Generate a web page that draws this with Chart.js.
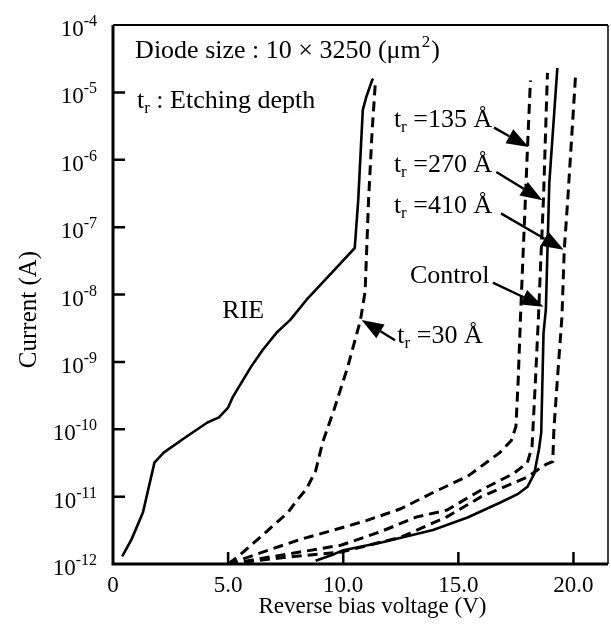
<!DOCTYPE html>
<html>
<head>
<meta charset="utf-8">
<script src="https://cdn.jsdelivr.net/npm/chart.js@4.4.1/dist/chart.umd.min.js"></script>
<style>
body { margin: 0; background: #fff; }
canvas { display: block; }
</style>
</head>
<body>
<canvas id="ivChart" width="611" height="624"></canvas>
<script>
// axis ticks
var xTicks = [0, 5, 10, 15, 20];
var yTickExps = [-12, -11, -10, -9, -8, -7, -6, -5, -4];

// RIE (solid)
var rieV = [0.4, 0.8, 1.3, 1.8, 2.2, 3.2, 4.1, 4.6, 5.0, 5.2, 6.0, 6.5, 7.1, 7.7, 8.4, 9.1, 9.8, 10.5, 10.65, 10.85, 11.0, 11.25, 11.3];
var rieI = [1.3e-12, 2.3e-12, 5.8e-12, 3.2e-11, 4.5e-11, 7.8e-11, 1.26e-10, 1.5e-10, 2.1e-10, 3.0e-10, 8.5e-10, 1.5e-9, 2.7e-9, 4.2e-9, 8.3e-9, 1.5e-8, 2.7e-8, 4.9e-8, 2.5e-7, 5.5e-6, 8.5e-6, 1.5e-5, 1.6e-5];

// t_r = 30 A
var t30V = [5.0, 5.4, 6.0, 6.4, 7.1, 7.6, 8.0, 8.4, 8.8, 9.1, 9.6, 10.2, 10.75, 10.95, 11.1, 11.25, 11.4];
var t30I = [1.0e-12, 1.26e-12, 1.9e-12, 2.5e-12, 4.1e-12, 5.8e-12, 8.9e-12, 1.3e-11, 2.4e-11, 6.3e-11, 1.95e-10, 8.5e-10, 4.2e-9, 1.1e-8, 2.5e-7, 2.5e-6, 1.5e-5];

// t_r = 135 A
var t135V = [5.0, 6.5, 8.1, 9.6, 11.0, 12.5, 13.9, 15.4, 16.8, 17.3, 17.5, 17.6, 17.7, 17.85, 18.0, 18.13];
var t135I = [1.0e-12, 1.5e-12, 2.3e-12, 3.2e-12, 4.4e-12, 6.6e-12, 1.15e-11, 2.0e-11, 4.5e-11, 6.8e-11, 1.1e-10, 5.4e-10, 4.7e-9, 8.1e-8, 1.4e-6, 1.5e-5];

// t_r = 270 A
var t270V = [5.0, 7.0, 9.9, 11.6, 13.2, 14.5, 16.0, 17.4, 18.0, 18.2, 18.35, 18.48, 18.57, 18.7, 18.87];
var t270I = [1.0e-12, 1.3e-12, 1.9e-12, 3.0e-12, 5.0e-12, 6.3e-12, 1.26e-11, 2.2e-11, 3.2e-11, 5.5e-11, 5.4e-10, 4.7e-9, 2.6e-8, 2.8e-7, 1.95e-5];

// t_r = 410 A
var t410V = [5.0, 7.5, 9.9, 12.5, 14.5, 16.0, 17.4, 18.0, 18.45, 18.8, 19.1, 19.15, 19.3, 19.5, 19.6, 19.75, 20.1];
var t410I = [1.0e-12, 1.26e-12, 1.5e-12, 2.5e-12, 5.0e-12, 1.0e-11, 1.6e-11, 1.95e-11, 2.5e-11, 3.0e-11, 3.3e-11, 1.0e-10, 5.4e-10, 4.7e-9, 4.6e-8, 2.5e-7, 2.0e-5];

// Control (solid)
var ctrlV = [8.8, 9.6, 10.0, 11.7, 13.9, 15.4, 16.8, 17.6, 18.0, 18.3, 18.5, 18.6, 18.7, 18.8, 18.95, 19.3];
var ctrlI = [1.12e-12, 1.4e-12, 1.6e-12, 2.1e-12, 3.2e-12, 4.9e-12, 8.1e-12, 1.1e-11, 1.4e-11, 2.2e-11, 5.0e-11, 8.9e-11, 2.7e-9, 5.9e-9, 4.5e-7, 2.3e-5];

var SERIF = '"Liberation Serif", "Times New Roman", serif';
function font(size) { return size + 'px ' + SERIF; }

function pts(v, i) {
  return v.map(function (x, k) { return { x: x, y: i[k] }; });
}

// labels and arrows, placed in data units (volts, current)
var labels = [
  { sub: true, rest: ' =30 Å', v: 12.35, i: 1.9e-9, from: [12.25, 2.1e-9], to: [10.8, 4.2e-9] },
  { sub: true, rest: ' =135 Å', v: 12.2, i: 3.1e-6, from: [16.55, 3.0e-6], to: [18.05, 1.55e-6] },
  { sub: true, rest: ' =270 Å', v: 12.2, i: 6.6e-7, from: [16.65, 6.6e-7], to: [18.65, 2.5e-7] },
  { sub: true, rest: ' =410 Å', v: 12.2, i: 1.6e-7, from: [16.85, 1.6e-7], to: [19.57, 4.6e-8] },
  { sub: false, rest: 'Control', v: 12.9, i: 1.5e-8, from: [16.5, 1.5e-8], to: [18.7, 6.6e-9] },
  { sub: false, rest: 'RIE', v: 4.75, i: 4.5e-9 }
];

function drawTr(c, x, y, rest) {
  c.font = font(26);
  c.textAlign = 'left';
  c.textBaseline = 'alphabetic';
  c.fillText('t', x, y);
  var w = c.measureText('t').width;
  c.font = font(17);
  c.fillText('r', x + w, y + 5);
  w += c.measureText('r').width;
  c.font = font(26);
  c.fillText(rest, x + w, y);
}

function arrow(c, x0, y0, x1, y1) {
  var ang = Math.atan2(y1 - y0, x1 - x0);
  var hl = 22, hw = 8;
  var bx = x1 - hl * Math.cos(ang), by = y1 - hl * Math.sin(ang);
  c.lineWidth = 2.4;
  c.beginPath();
  c.moveTo(x0, y0);
  c.lineTo(bx, by);
  c.stroke();
  c.beginPath();
  c.moveTo(x1, y1);
  c.lineTo(bx + hw * Math.sin(ang), by - hw * Math.cos(ang));
  c.lineTo(bx - hw * Math.sin(ang), by + hw * Math.cos(ang));
  c.closePath();
  c.fill();
}

var decor = {
  id: 'decor',
  afterDraw: function (chart) {
    var c = chart.ctx, a = chart.chartArea;
    var xs = chart.scales.x, ys = chart.scales.y;
    c.save();
    c.strokeStyle = '#000';
    c.fillStyle = '#000';

    // frame
    c.lineWidth = 3;
    c.beginPath();
    c.moveTo(a.left, a.top);
    c.lineTo(a.left, a.bottom);
    c.lineTo(a.right, a.bottom);
    c.stroke();
    c.lineWidth = 2.2;
    c.beginPath();
    c.moveTo(a.left, a.top);
    c.lineTo(a.right, a.top);
    c.stroke();
    c.lineWidth = 1.5;
    c.beginPath();
    c.moveTo(a.right, a.top);
    c.lineTo(a.right, a.bottom);
    c.stroke();

    // inward ticks
    c.lineWidth = 2.5;
    c.beginPath();
    xTicks.forEach(function (v) {
      if (v <= 0) return;
      var x = xs.getPixelForValue(v);
      c.moveTo(x, a.bottom);
      c.lineTo(x, a.bottom - 12);
    });
    yTickExps.forEach(function (e) {
      if (e <= -12 || e >= -4) return;
      var y = ys.getPixelForValue(Math.pow(10, e));
      c.moveTo(a.left, y);
      c.lineTo(a.left + 12, y);
    });
    c.stroke();

    // y tick labels 10^n
    yTickExps.forEach(function (e) {
      var y = ys.getPixelForValue(Math.pow(10, e));
      var ex = String(e);
      var right = a.left - 16;
      c.textBaseline = 'alphabetic';
      c.font = font(16);
      var ew = c.measureText(ex).width;
      c.textAlign = 'left';
      c.fillText(ex, right - ew, y + 1);
      c.font = font(23);
      c.textAlign = 'right';
      c.fillText('10', right - ew, y + 11);
    });

    // axis titles
    c.font = font(23);
    c.textAlign = 'center';
    c.textBaseline = 'alphabetic';
    c.fillText('Reverse bias voltage (V)', (a.left + a.right) / 2 + 12, 613);
    c.save();
    c.translate(36, (a.top + a.bottom) / 2 + 15);
    c.rotate(-Math.PI / 2);
    c.font = font(25);
    c.fillText('Current (A)', 0, 0);
    c.restore();

    // header notes
    var hx = xs.getPixelForValue(0.96);
    var hy = ys.getPixelForValue(Math.pow(10, -4.49));
    c.font = font(26);
    c.textAlign = 'left';
    var head = 'Diode size : 10 × 3250 (μm';
    c.fillText(head, hx, hy);
    var hw = c.measureText(head).width;
    c.font = font(17);
    c.fillText('2', hx + hw + 1, hy - 11);
    var sw = c.measureText('2').width;
    c.font = font(26);
    c.fillText(')', hx + hw + sw + 2, hy);
    drawTr(c, xs.getPixelForValue(1.04), ys.getPixelForValue(Math.pow(10, -5.23)), ' : Etching depth');

    // curve labels and arrows
    labels.forEach(function (l) {
      var x = xs.getPixelForValue(l.v), y = ys.getPixelForValue(l.i);
      if (l.sub) {
        drawTr(c, x, y, l.rest);
      } else {
        c.font = font(26);
        c.textAlign = 'left';
        c.fillText(l.rest, x, y);
      }
      if (l.from) {
        arrow(c, xs.getPixelForValue(l.from[0]), ys.getPixelForValue(l.from[1]),
          xs.getPixelForValue(l.to[0]), ys.getPixelForValue(l.to[1]));
      }
    });
    c.restore();
  }
};

function line(label, data, dashed) {
  return {
    label: label,
    data: data,
    borderColor: '#000',
    borderWidth: dashed ? 3 : 2.6,
    borderDash: dashed ? [10, 6] : [],
    borderJoinStyle: 'round',
    pointRadius: 0,
    tension: 0,
    fill: false
  };
}

var ctx = document.getElementById('ivChart').getContext('2d');
var ivChart = new Chart(ctx, {
  type: 'line',
  data: {
    datasets: [
      line('RIE', pts(rieV, rieI), false),
      line('tr=30', pts(t30V, t30I), true),
      line('tr=135', pts(t135V, t135I), true),
      line('tr=270', pts(t270V, t270I), true),
      line('tr=410', pts(t410V, t410I), true),
      line('Control', pts(ctrlV, ctrlI), false)
    ]
  },
  options: {
    responsive: false,
    animation: false,
    layout: { padding: { left: 0, top: 25, right: 3, bottom: 0 } },
    plugins: { legend: { display: false }, tooltip: { enabled: false } },
    scales: {
      x: {
        type: 'linear',
        min: 0,
        max: 21.5,
        afterBuildTicks: function (s) { s.ticks = xTicks.map(function (v) { return { value: v }; }); },
        afterFit: function (s) { s.height = 60; },
        grid: { display: false, drawTicks: false },
        border: { display: false },
        ticks: {
          color: '#000',
          font: { family: SERIF, size: 23 },
          padding: 8,
          maxRotation: 0,
          callback: function (v) { return v === 0 ? '0' : v.toFixed(1); }
        }
      },
      y: {
        type: 'logarithmic',
        min: 1e-12,
        max: 1e-4,
        afterFit: function (s) { s.width = 113; },
        grid: { display: false, drawTicks: false },
        border: { display: false },
        ticks: { display: false }
      }
    }
  },
  plugins: [decor]
});
</script>
</body>
</html>
